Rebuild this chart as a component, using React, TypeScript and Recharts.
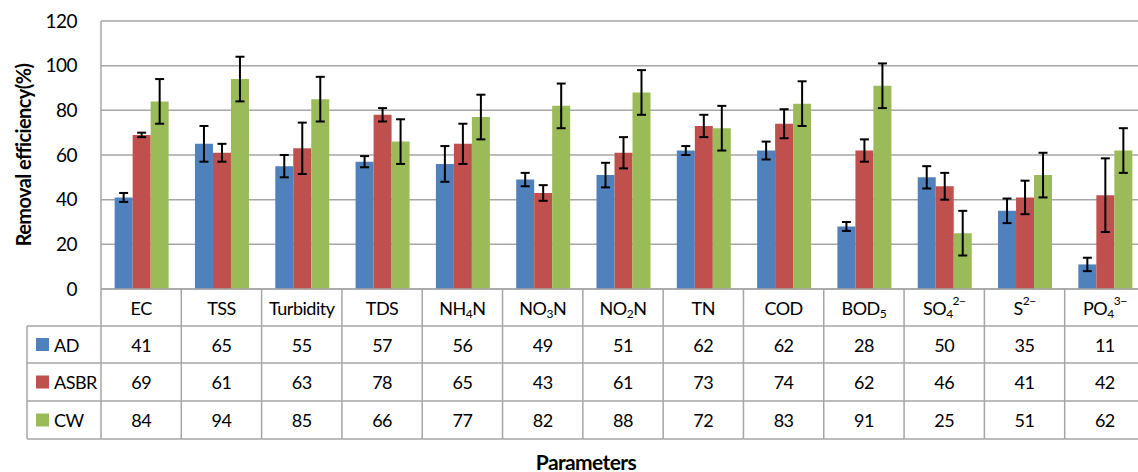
import React from "react";
import { BarChart, Bar, XAxis, YAxis, CartesianGrid, ErrorBar, Label } from "recharts";

const categories = ["EC", "TSS", "Turbidity", "TDS", "NH4N", "NO3N", "NO2N", "TN", "COD", "BOD5", "SO4", "S", "PO4"];
const adValues = [41, 65, 55, 57, 56, 49, 51, 62, 62, 28, 50, 35, 11];
const asbrValues = [69, 61, 63, 78, 65, 43, 61, 73, 74, 62, 46, 41, 42];
const cwValues = [84, 94, 85, 66, 77, 82, 88, 72, 83, 91, 25, 51, 62];
const adErr = [2, 8, 5, 2.5, 8, 3, 5.5, 2, 4, 2, 5, 5.5, 3];
const asbrErr = [1, 4, 11.5, 3, 9, 3.5, 7, 5, 6.5, 5, 6, 7.5, 16.5];
const cwErr = [10, 10, 10, 10, 10, 10, 10, 10, 10, 10, 10, 10, 10];
const yTicks = [0, 20, 40, 60, 80, 100, 120];

// header text pieces: [text, "sub" | "sup" | undefined]
const labelParts: Record<string, [string, string?][]> = {
  NH4N: [["NH"], ["4", "sub"], ["N"]],
  NO3N: [["NO"], ["3", "sub"], ["N"]],
  NO2N: [["NO"], ["2", "sub"], ["N"]],
  BOD5: [["BOD"], ["5", "sub"]],
  SO4: [["SO"], ["4", "sub"], ["2\u2212", "sup"]],
  S: [["S"], ["2\u2212", "sup"]],
  PO4: [["PO"], ["4", "sub"], ["3\u2212", "sup"]],
};

const series = [
  { key: "AD", name: "AD", color: "#4F81BD", values: adValues },
  { key: "ASBR", name: "ASBR", color: "#C0504D", values: asbrValues },
  { key: "CW", name: "CW", color: "#9BBB59", values: cwValues },
];

const data = categories.map((c, i) => ({
  name: c,
  AD: adValues[i],
  ASBR: asbrValues[i],
  CW: cwValues[i],
  adErr: adErr[i],
  asbrErr: asbrErr[i],
  cwErr: cwErr[i],
}));

const FONT = "Lato, 'Noto Sans', sans-serif";
const W = 1150;
const H = 472;
const Y_AXIS_W = 101;
const RIGHT = 5;
const COL_W = (W - Y_AXIS_W - RIGHT) / categories.length;
const ROWS = [0, 37, 74, 112, 150];
const LEGEND_W = 74;
const LINE = "#a6a6a6";
const LS = -0.5;

function HeaderLabel({ x, y, name }: { x: number; y: number; name: string }) {
  const parts = labelParts[name] ?? [[name]];
  let shift = 0;
  return (
    <text x={x} y={y} textAnchor="middle" dominantBaseline="central" fontSize={18} letterSpacing={LS} fill="#000">
      {parts.map(([t, kind], k) => {
        const target = kind === "sub" ? 5 : kind === "sup" ? -8 : 0;
        const dy = target - shift;
        shift = target;
        return (
          <tspan key={k} dy={dy} fontSize={kind ? 12 : 18}>
            {t}
          </tspan>
        );
      })}
    </text>
  );
}

function TableTick(props: any) {
  const { x, y, payload } = props;
  const i = categories.indexOf(payload.value);
  const left = x - COL_W / 2;
  const right = x + COL_W / 2;
  const rowMid = (r: number) => y + (ROWS[r] + ROWS[r + 1]) / 2;
  return (
    <g>
      {ROWS.slice(1).map((r) => (
        <line key={r} x1={left} x2={right} y1={y + r} y2={y + r} stroke={LINE} strokeWidth={1.5} />
      ))}
      <line x1={right} x2={right} y1={y} y2={y + ROWS[4]} stroke={LINE} strokeWidth={1.5} />
      {i === 0 && (
        <g>
          <line x1={left} x2={left} y1={y} y2={y + ROWS[4]} stroke={LINE} strokeWidth={1.5} />
          <line x1={left - LEGEND_W} x2={left - LEGEND_W} y1={y + ROWS[1]} y2={y + ROWS[4]} stroke={LINE} strokeWidth={1.5} />
          {ROWS.slice(1).map((r) => (
            <line key={r} x1={left - LEGEND_W} x2={left} y1={y + r} y2={y + r} stroke={LINE} strokeWidth={1.5} />
          ))}
          {series.map((s, r) => (
            <g key={s.key}>
              <rect x={left - LEGEND_W + 9} y={rowMid(r + 1) - 6.5} width={13} height={13} fill={s.color} />
              <text x={left - LEGEND_W + 27} y={rowMid(r + 1)} dominantBaseline="central" fontSize={18} letterSpacing={LS} fill="#000">
                {s.name}
              </text>
            </g>
          ))}
        </g>
      )}
      <HeaderLabel x={x} y={rowMid(0)} name={payload.value} />
      {series.map((s, r) => (
        <text key={s.key} x={x} y={rowMid(r + 1)} textAnchor="middle" dominantBaseline="central" fontSize={18} letterSpacing={LS} fill="#000">
          {s.values[i]}
        </text>
      ))}
    </g>
  );
}

export default function App() {
  return (
    <div style={{ position: "absolute", left: 0, top: 0, width: 1138, height: H, overflow: "hidden", background: "#fff", fontFamily: FONT }}>
      <BarChart
        width={W}
        height={H}
        data={data}
        margin={{ top: 21, right: RIGHT, bottom: 33, left: 0 }}
        barCategoryGap="17%"
        barGap={0}
      >
        <CartesianGrid vertical={false} stroke={LINE} strokeWidth={1.5} />
        <YAxis
          width={Y_AXIS_W}
          domain={[0, 120]}
          ticks={yTicks}
          interval={0}
          tickLine={false}
          tickSize={0}
          tickMargin={24}
          axisLine={{ stroke: LINE, strokeWidth: 1.5 }}
          tick={{ fill: "#000", fontSize: 19, fontFamily: FONT, letterSpacing: LS }}
        >
          <Label
            content={({ viewBox }: any) => {
              const cx = 23;
              const cy = viewBox.y + viewBox.height / 2;
              return (
                <text x={cx} y={cy} transform={`rotate(-90 ${cx} ${cy})`} textAnchor="middle" dominantBaseline="central" fontSize={20} fontWeight={700} letterSpacing={-0.6} fill="#000">
                  Removal efficiency(%)
                </text>
              );
            }}
          />
        </YAxis>
        <XAxis
          dataKey="name"
          height={150}
          interval={0}
          tickLine={false}
          tickSize={0}
          tickMargin={0}
          axisLine={{ stroke: LINE, strokeWidth: 1.5 }}
          tick={<TableTick />}
        >
          <Label
            content={({ viewBox }: any) => {
              const cx = (viewBox.x - LEGEND_W + viewBox.x + viewBox.width) / 2;
              return (
                <text x={cx} y={461} textAnchor="middle" dominantBaseline="central" fontSize={21} fontWeight={700} letterSpacing={-0.6} fill="#000">
                  Parameters
                </text>
              );
            }}
          />
        </XAxis>
        {series.map((s, k) => (
          <Bar key={s.key} dataKey={s.key} fill={s.color} isAnimationActive={false}>
            <ErrorBar dataKey={["adErr", "asbrErr", "cwErr"][k]} width={4.5} strokeWidth={2} stroke="#000" direction="y" />
          </Bar>
        ))}
      </BarChart>
    </div>
  );
}
